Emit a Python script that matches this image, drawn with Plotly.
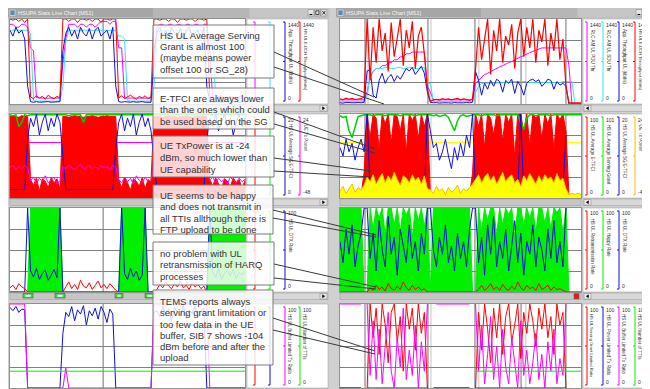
import plotly.graph_objects as go

W, H = 650, 389
T = list(range(81))  # sample index shared by every series

# ======================= RIGHT WINDOW (segments 9 / 21 / 15 / 31 / 5) =======================
# panel 1 (kbit/s, 0..1440)
r_pdu = [70, 70, 70, 70, 70, 70, 70, 70, 70,
         200, 450, 550, 600, 600, 650, 650, 700, 700, 750, 750, 800, 800, 850, 850, 880, 880, 880, 880, 880, 300,
         200, 70, 70, 70, 70, 70, 70, 70, 70, 70, 70, 70, 70, 70, 70,
         350, 400, 450, 500, 520, 550, 580, 600, 630, 650, 680, 700, 720, 750, 770, 800, 820, 850, 870, 890,
         910, 930, 950, 950, 950, 950, 950, 950, 950, 950, 950,
         650, 0, 0, 0, 0]
r_sdu = [40, 40, 40, 40, 40, 40, 40, 40, 40,
         150, 500, 550, 600, 600, 600, 620, 620, 600, 600, 620, 620, 600, 600, 620, 620, 600, 600, 620, 620, 350,
         350, 40, 40, 40, 40, 40, 40, 40, 40, 40, 40, 40, 40, 40, 40,
         200, 300, 350, 350, 360, 360, 360, 360, 360, 360, 360, 360, 380, 380, 380, 380, 380, 380, 360, 360,
         360, 360, 360, 360, 360, 360, 360, 360, 360, 380, 380,
         380, 380, 0, 0, 0]
r_app = [20, 15, 25, 20, 15, 20, 25, 20, 30,
         560, 580, 150, 100, 400, 520, 350, 450, 500, 380, 480, 420, 520, 600, 560, 620, 500, 580, 640, 520, 200,
         30, 20, 25, 15, 20, 25, 20, 15, 25, 20, 15, 20, 25, 20, 30,
         550, 400, 150, 350, 250, 400, 300, 420, 380, 200, 400, 350, 420, 180, 380, 300, 150, 350, 400, 420,
         380, 410, 300, 350, 420, 400, 250, 380, 320, 350, 300,
         0, 0, 0, 0, 0]
r_edch = [90, 70, 100, 80, 95, 75, 85, 90, 120,
          1440, 400, 1300, 700, 1440, 900, 1200, 550, 1380, 800, 1100, 1440, 650, 1250, 950, 1400, 600, 1150, 1300, 850, 250,
          40, 70, 80, 65, 90, 75, 85, 70, 80, 95, 70, 85, 75, 60, 90,
          600, 1300, 750, 1100, 1440, 500, 1250, 900, 1440, 700, 1150, 1000, 1350, 600, 1200, 1440, 800, 1300, 950, 1440,
          700, 1250, 1050, 1440, 650, 1200, 900, 1440, 750, 1100, 300,
          20, 20, 20, 20, 20]
# panel 2
r_etfci = [4, 5, 3, 6, 4, 5, 3, 4, 30,
           100, 72, 100, 95, 58, 100, 88, 100, 65, 100, 97, 80, 100, 55, 100, 92, 100, 70, 100, 85, 100,
           4, 5, 3, 4, 6, 4, 5, 3, 4, 5, 4, 6, 5, 4, 30,
           100, 85, 100, 60, 100, 95, 75, 100, 100, 68, 100, 90, 100, 50, 100, 100, 78, 100, 62, 100,
           95, 100, 70, 100, 88, 100, 58, 100, 93, 100, 80,
           3, 3, 3, 3, 3]
r_sg = [98, 96, 97, 80, 72, 85, 97, 98, 99,
        99, 99, 98, 99, 99, 99, 98, 99, 99, 99, 99, 98, 99, 99, 99, 99, 98, 99, 99, 99, 99,
        99, 98, 99, 97, 98, 99, 96, 88, 80, 92, 98, 99, 97, 98, 99,
        99, 99, 98, 99, 99, 99, 99, 98, 99, 99, 99, 99, 99, 99, 99, 90, 82, 95, 99, 99,
        98, 99, 99, 99, 99, 98, 99, 99, 99, 99, 99,
        99, 99, 99, 99, 99]
r_sgetfci = [12, 10, 14, 11, 13, 9, 12, 14, 11,
             20, 1, 1, 2, 1, 1, 2, 1, 1, 1, 2, 1, 1, 2, 1, 1, 1, 2, 1, 1, 20,
             16, 12, 13, 9, 11, 14, 10, 7, 12, 9, 13, 10, 15, 12, 20,
             1, 1, 2, 1, 1, 1, 2, 1, 1, 1, 1, 2, 1, 1, 1, 20, 1, 1, 1, 2,
             1, 1, 1, 1, 2, 1, 1, 1, 1, 2, 15,
             None, None, None, None, None]
r_txp = [-42, -38, -44, -40, -36, -43, -39, -41, -37,
         -30, -34, -28, -36, -31, -27, -35, -29, -33, -26, -32, -37, -29, -31, -35, -28, -33, -30, -36, -29, -40,
         -41, -44, -38, -42, -40, -45, -39, -43, -41, -37, -44, -40, -42, -39, -36,
         -32, -28, -35, -30, -27, -33, -29, -36, -31, -26, -34, -30, -28, -35, -32, -38, -29, -33, -27, -31,
         -36, -29, -34, -28, -32, -30, -35, -27, -33, -31, -40,
         -45, -44, -45, -44, -45]
# panel 3
r_happy = [100, 100, 100, 100, 100, 100, 100, 100, 0,
           0, 100, 75, 100, 88, 100, 68, 100, 100, 80, 100, 72, 100, 92, 100, 65, 100, 85, 100, 78, 100,
           0, 100, 100, 100, 100, 100, 100, 100, 100, 100, 100, 100, 100, 100, 0,
           0, 100, 72, 100, 85, 100, 100, 68, 100, 80, 100, 92, 100, 66, 100, 100, 78, 100, 88, 100,
           70, 100, 100, 82, 100, 75, 100, 95, 100, 70, 100,
           0, 0, 0, 0, 0]
r_dtx = [60, 35, 75, 45, 80, 30, 55, 70, 100,
         100, 40, 70, 25, 85, 50, 30, 90, 45, 65, 20, 75, 55, 35, 80, 40, 60, 25, 70, 45, 100,
         100, 50, 30, 65, 45, 80, 35, 55, 25, 70, 40, 60, 30, 75, 100,
         100, 35, 65, 20, 80, 45, 90, 30, 60, 40, 75, 25, 55, 85, 35, 70, 20, 60, 45, 80,
         30, 65, 50, 25, 75, 40, 85, 35, 60, 30, 100,
         None, None, None, None, None]
r_retx = [0, 0, 0, 0, 0, 0, 0, 0, 0,
          0, 5, 2, 8, 3, 6, 1, 10, 4, 2, 7, 3, 12, 5, 2, 8, 3, 6, 2, 4, 0,
          0, 0, 0, 0, 0, 0, 0, 0, 0, 0, 0, 0, 0, 0, 0,
          0, 3, 8, 2, 5, 10, 3, 6, 2, 9, 4, 2, 7, 3, 12, 5, 2, 8, 4, 6,
          2, 10, 3, 5, 8, 2, 6, 3, 4, 2, 0,
          0, 0, 0, 0, 0]
# panel 4
r_sglim = [0, 0, 0, 0, 0, 0, 0, 0, None,
           0, 100, 60, 95, 40, 100, 75, 30, 90, 100, 55, 85, 20, 100, 70, 95, 45, 100, 65, 90, 0,
           None, 0, 0, 0, 0, 0, 0, 0, 0, 0, 0, 0, 0, 0, None,
           0, 90, 45, 100, 70, 30, 95, 60, 100, 40, 85, 100, 55, 75, 100, 35, 90, 65, 100, 80,
           50, 95, 70, 100, 60, 85, 40, 100, 75, 90, 0,
           None, None, None, None, None]
r_pwrlim = [0, 0, 0, 0, 0, 0, 0, 0, None,
            0, 0, 0, 0, 0, 0, 0, 0, 0, 0, 0, 0, 0, 0, 0, 0, 0, 0, 0, 0, 0,
            None, 0, 0, 0, 0, 0, 0, 0, 0, 0, 0, 0, 0, 0, None,
            0, 0, 0, 0, 0, 0, 0, 0, 0, 0, 0, 0, 0, 0, 0, 0, 0, 0, 0, 0,
            0, 0, 0, 0, 0, 0, 0, 0, 0, 0, 0,
            None, None, None, None, None]
r_buflim = [100, 100, 100, 100, 100, 100, 100, 100, None,
            100, 15, 80, 10, 70, 5, 50, 90, 20, 0, 60, 25, 95, 10, 45, 15, 75, 0, 55, 20, 100,
            None, None, 100, 100, 100, 100, 100, 100, 100, 100, 100, 100, 100, 100, None,
            100, 20, 75, 5, 40, 85, 10, 50, 0, 70, 25, 5, 60, 30, 0, 80, 15, 45, 5, 30,
            65, 10, 40, 0, 55, 20, 70, 5, 35, 15, 100,
            None, None, None, None, None]
r_ntti_t = [45, 80]
r_ntti = [20, 20]

# ======================= LEFT WINDOW (segments 7 / 11 / 19 / 13 / 18 / 13) =======================
l_pdu = [1350, 1350, 1300, 1300, 1350, 1350, 1300,
         950, 900, 110, 100, 100, 100, 100, 100, 100, 100, 100,
         700, 1100, 1350, 1350, 1350, 1300, 1350, 1350, 1300, 1350, 1350, 1300, 1350, 1400, 1400, 1400, 1350, 1400, 1400,
         950, 950, 100, 100, 100, 100, 100, 100, 100, 100, 100, 100, 600,
         1300, 1350, 1350, 1300, 1350, 1350, 1300, 1350, 1350, 1300, 1350, 1350, 1300, 1350, 1350, 1300, 1350, 1350,
         900, 100, 100, 100, 100, 100, 100, 100, 100, 100, 100, 100, 100]
l_sdu = [1250, 1250, 1250, 1250, 1250, 1250, 1250,
         1200, 60, 50, 50, 50, 50, 50, 50, 50, 50, 50,
         300, 1050, 1250, 1250, 1250, 1250, 1250, 1250, 1250, 1250, 1250, 1250, 1250, 1250, 1250, 1250, 1250, 1250, 1250,
         1150, 1150, 1100, 60, 50, 50, 50, 50, 50, 50, 50, 50, 300,
         1000, 1250, 1250, 1250, 1250, 1250, 1250, 1250, 1250, 1250, 1250, 1250, 1250, 1250, 1250, 1250, 1250, 1250,
         1150, 1100, 60, 50, 50, 50, 50, 50, 50, 50, 50, 50, 50]
l_app = [1250, 1150, 1300, 1200, 1250, 1100, 300,
         40, 30, 40, 30, 35, 30, 40, 30, 35, 30, 40,
         900, 1200, 1300, 1150, 1250, 1100, 1300, 1200, 1150, 1280, 1100, 1250, 1300, 1150, 1200, 1250, 1100, 1300, 300,
         40, 30, 40, 35, 30, 40, 30, 35, 40, 30, 35, 30, 900,
         1200, 1300, 1150, 1250, 1100, 1300, 1200, 1150, 1280, 1100, 1250, 1300, 1150, 1200, 1250, 1100, 1300, 300,
         40, 30, 35, 40, 30, 35, 40, 30, 35, 40, 30, 35, 40]
l_edch = [1440, 1420, 1440, 1400, 1440, 1380, 1440,
          120, 90, 140, 100, 130, 80, 150, 110, 90, 130, 100,
          1440, 1440, 1400, 1440, 1440, 1380, 1440, 1440, 1420, 1440, 1400, 1440, 1440, 1380, 1440, 1440, 1420, 1440, 1440,
          100, 140, 90, 120, 150, 110, 80, 130, 100, 140, 90, 120, 1440,
          1440, 1420, 1440, 1440, 1400, 1440, 1440, 1380, 1440, 1440, 1420, 1440, 1440, 1400, 1440, 1440, 1420, 1440,
          130, 100, 80, 120, 140, 90, 110, 130, 100, 80, 120, 140, 100]
l_etfci = [97, 98, 97, 96, 98, 97, 97,
           22, 15, 24, 8, 23, 20, 12, 24, 18, 23, 10,
           97, 97, 96, 97, 98, 97, 97, 96, 97, 97, 98, 97, 96, 97, 97, 98, 97, 97, 97,
           22, 12, 24, 18, 9, 23, 20, 14, 24, 11, 22, 19, 97,
           97, 97, 96, 97, 98, 97, 97, 96, 97, 97, 98, 97, 96, 97, 97, 98, 97, 97,
           22, 14, 24, 17, 10, 23, 20, 13, 24, 18, 22, 11, 21]
l_sg = [99, 98, 99, 85, 90, 99, 98,
        99, 99, 99, 99, 99, 99, 99, 99, 99, 99, 99,
        99, 99, 98, 99, 99, 99, 99, 90, 99, 99, 99, 99, 99, 99, 99, 99, 99, 99, 99,
        99, 99, 99, 99, 99, 99, 99, 99, 99, 99, 99, 99, 99,
        99, 99, 99, 99, 99, 99, 99, 99, 99, 99, 99, 99, 99, 99, 99, 99, 99, 99,
        99, 99, 99, 99, 99, 99, 99, 99, 99, 99, 99, 99, 99]
l_sgetfci = [2, 2, 2, 2, 2, 2, 14,
             19, 17, 20, 15, 18, 20, 16, 19, 17, 20, 18,
             10, 2, 2, 2, 2, 2, 2, 2, 2, 2, 2, 2, 2, 2, 2, 2, 2, 2, 12,
             18, 20, 16, 19, 17, 20, 15, 18, 20, 17, 19, 16, 8,
             2, 2, 2, 2, 2, 2, 2, 2, 2, 2, 2, 2, 2, 2, 2, 2, 2, 14,
             19, 17, 20, 16, 18, 20, 17, 19, 15, 18, 20, 17, 19]
l_txp = [-22, -20, -24, -21, -23, -20, -22,
         -33, -30, -36, -31, -34, -29, -35, -32, -30, -36, -33,
         -21, -23, -20, -22, -24, -21, -19, -23, -22, -20, -24, -21, -23, -20, -22, -21, -24, -20, -22,
         -32, -35, -30, -34, -31, -36, -29, -33, -35, -30, -34, -32, -22,
         -21, -23, -20, -22, -24, -21, -22, -20, -23, -21, -24, -22, -20, -23, -21, -22, -24, -21,
         -33, -30, -35, -31, -34, -32, -36, -30, -33, -35, -31, -34, -32]
l_happy = [0, 0, 0, 0, 0, 0, 0,
           100, 100, 100, 100, 100, 100, 100, 100, 100, 100, 100,
           0, 0, 0, 0, 0, 0, 0, 0, 0, 0, 0, 0, 0, 0, 0, 0, 0, 0, 0,
           0, 100, 100, 100, 100, 100, 100, 100, 100, 100, 0, 0, 0,
           0, 0, 0, 0, 0, 0, 0, 0, 0, 0, 0, 0, 0, 0, 0, 0, 0, 0,
           100, 100, 100, 100, 100, 100, 100, 100, 100, 100, 100, 100, 100]
l_dtx = [0, 0, 0, 0, 0, 0, 100,
         25, 18, 28, 15, 22, 26, 14, 20, 27, 17, 100,
         0, 0, 0, 0, 0, 0, 0, 0, 0, 0, 0, 0, 0, 0, 0, 0, 0, 0, 0,
         0, 100, 22, 15, 28, 18, 25, 14, 20, 100, 0, 0, 0,
         0, 0, 0, 0, 0, 0, 0, 0, 0, 0, 0, 0, 0, 0, 0, 0, 0, 0,
         100, 24, 17, 28, 15, 22, 26, 19, 27, 16, 23, 20, 25]
l_retx = [5, 8, 3, 10, 6, 4, 0,
          0, 0, 0, 0, 0, 0, 0, 0, 0, 0, 0,
          0, 6, 12, 4, 9, 3, 14, 7, 5, 11, 3, 8, 13, 5, 9, 4, 10, 6, 2,
          0, 0, 0, 0, 0, 0, 0, 0, 0, 0, 0, 0, 0,
          3, 9, 5, 12, 7, 4, 10, 6, 13, 5, 8, 3, 11, 6, 9, 4, 7, 0,
          0, 0, 0, 0, 0, 0, 0, 0, 0, 0, 0, 0, 0]
l_pwrlim = [96, 92, 97, 90, 94, 93, 0,
            0, 0, 0, 0, 0, 0, 0, 0, 0, 0, 0,
            65, 90, 85, 97, 80, 93, 88, 98, 75, 92, 86, 95, 82, 97, 90, 78, 94, 88, 0,
            0, 0, 0, 0, 0, 0, 0, 0, 0, 0, 0, 0, 90,
            92, 85, 97, 88, 94, 80, 96, 90, 86, 98, 83, 93, 89, 97, 84, 92, 95, 0,
            0, 0, 0, 0, 0, 0, 0, 0, 0, 0, 0, 0, 0]
l_buflim = [100, 100, 100, 100, 100, 100, 0,
            0, 0, 0, 0, 0, 0, 0, 0, 0, 0, 0,
            0, 24, 0, 0, 0, 0, 0, 0, 0, 0, 0, 0, 0, 0, 0, 0, 0, 0, 0,
            0, 0, 0, 0, 0, 0, 0, 0, 0, 0, 0, 0, 100,
            100, 100, 100, 100, 100, 100, 100, 100, 100, 100, 100, 100, 100, 100, 100, 100, 100, 100,
            0, 0, 0, 0, 0, 0, 0, 0, 0, 0, 0, 0, 0]
l_ntti_t = [0, 80]
l_ntti = [20, 20]

TXP_RANGE = [-48, 24]

# legend captions (scale top, scale bottom, name) per panel
LEG_P1 = [("1440", "0", "RLC AM UL PDU Thr"), ("1440", "0", "RLC AM UL SDU Thr"),
          ("1440", "0", "App. Throughput UL (kbit/s)"), ("1440", "0", "HS UL E-DCH Throughput (kbit/s)")]
LEG_P2 = [("100", "0", "HS UL Average E-TFCI"), ("101", "0", "HS UL Average Serving Grant"),
          ("20", "0", "HS UL Average SG/E-TFCI"), ("24", "-48", "UE Tx Power")]
LEG_P3 = [("100", "0", "HS UL Retransmission Rate"), ("100", "0", "HS UL Happy Rate"),
          ("100", "0", "HS UL DTX Rate")]
LEG_P4 = [("100", "0", "HS UL Serving Grant Limited Ratio"), ("100", "0", "HS UL Power Limited Tx Ratio"),
          ("100", "0", "HS UL Buffer Limited Tx Ratio"), ("100", "0", "HS UL Number of TTIs")]

CALLOUTS = [
    ["HS UL Average Serving", "Grant is allmost 100", "(maybe means power", "offset 100 or SG_28)"],
    ["E-TFCI are always lower", "than the ones which could", "be used based on the SG"],
    ["UE TxPower is at -24", "dBm, so much lower than", "UE capability"],
    ["UE seems to be happy", "and does not transmit in", "all TTIs allthough there is", "FTP upload to be done"],
    ["no problem with UL", "retransmission of HARQ", "processes"],
    ["TEMS reports always", "serving grant limitation or", "too few data in the UE",
     "buffer, SIB 7 shows -104", "dBm before and after the", "upload"],
]
TITLE = "HSUPA Stats Line Chart [MS1]"

for nm, arr in list(globals().items()):
    if (nm.startswith("r_") or nm.startswith("l_")) and not nm.endswith("_t") and nm not in ("r_ntti", "l_ntti"):
        assert len(arr) == 81, (nm, len(arr))

# ---------------- styling / layout ----------------
RED = "#ff0000"; MAG = "#ff00ff"; CYAN = "#38e4f4"; BLUE = "#1010d8"
GREEN = "#00f000"; GLINE = "#00d000"; YEL = "#ffff00"; YLINE = "#f0c000"
GRID = "#808080"; CHROME = "#d0d0d0"; FONT = "Liberation Sans, Arial, sans-serif"

PANEL_Y = [(11, 96), (106, 190), (200, 284), (296, 380)]
WIN = {"L": dict(px=(2, 237), lg=(239, 320), lines=[247, 262, 277, 292], off=0, win=(0, 322)),
       "R": dict(px=(332, 573), lg=(575, 648), lines=[579, 595, 611, 627], off=4, win=(328, 650))}

fig = go.Figure()

def an(k):
    return "" if k == 1 else str(k)

def add(k, y, color, x=None, yax=None, width=1.0, fill=None, fc=None):
    fig.add_trace(go.Scatter(x=T if x is None else x, y=y, mode="lines",
                             line=dict(color=color, width=width), fill=fill, fillcolor=fc,
                             xaxis="x" + an(k), yaxis=yax or ("y" + an(k)),
                             hoverinfo="skip", showlegend=False))

# left window traces
add(1, l_pdu, MAG); add(1, l_sdu, CYAN); add(1, l_app, BLUE); add(1, l_edch, RED)
add(2, l_etfci, RED, fill="tozeroy", fc=RED); add(2, l_sg, GLINE, width=1.5)
add(2, l_sgetfci, BLUE, yax="y9"); add(2, l_txp, MAG, yax="y10")
add(3, l_happy, GREEN, fill="tozeroy", fc=GREEN); add(3, l_dtx, BLUE); add(3, l_retx, RED)
add(4, l_pwrlim, BLUE); add(4, l_buflim, MAG); add(4, l_ntti, GREEN, x=l_ntti_t)
# right window traces
add(5, r_pdu, MAG); add(5, r_sdu, CYAN); add(5, r_app, BLUE); add(5, r_edch, RED, width=1.2)
add(6, r_etfci, RED, fill="tozeroy", fc=RED); add(6, r_sg, GLINE, width=1.5)
add(6, r_sgetfci, BLUE, yax="y11")
add(6, [TXP_RANGE[0], TXP_RANGE[0]], "rgba(0,0,0,0)", x=[0, 80], yax="y12", width=0)
add(6, r_txp, YLINE, yax="y12", fill="tonexty", fc=YEL)
add(7, r_happy, GREEN, fill="tozeroy", fc=GREEN); add(7, r_dtx, BLUE); add(7, r_retx, RED)
add(8, r_sglim, RED); add(8, r_pwrlim, BLUE); add(8, r_buflim, MAG); add(8, r_ntti, GREEN, x=r_ntti_t)

lay = {}
for side, w in WIN.items():
    for i, (yt, yb) in enumerate(PANEL_Y):
        k = w["off"] + i + 1
        rng = [0, 1440] if i == 0 else [0, 100]
        lay["xaxis" + an(k)] = dict(domain=[w["px"][0] / W, w["px"][1] / W], range=[0, 80],
                                   showgrid=False, zeroline=False, showticklabels=False, ticks="",
                                   showline=True, mirror=True, linecolor="#909090", linewidth=1,
                                   anchor="y" + an(k), fixedrange=True)
        lay["yaxis" + an(k)] = dict(domain=[1 - yb / H, 1 - yt / H], range=rng, tick0=0, dtick=rng[1] / 4,
                                   showgrid=True, gridcolor=GRID, gridwidth=1, zeroline=False,
                                   showticklabels=False, ticks="", showline=True, mirror=True,
                                   linecolor="#909090", linewidth=1, anchor="x" + an(k), fixedrange=True)
hidden = dict(showgrid=False, showticklabels=False, ticks="", showline=False, fixedrange=True)
lay["yaxis9"] = dict(overlaying="y2", anchor="x2", range=[0, 20], zeroline=False, **hidden)
lay["yaxis10"] = dict(overlaying="y2", anchor="x2", range=TXP_RANGE, zeroline=True,
                      zerolinecolor=MAG, zerolinewidth=1, **hidden)
lay["yaxis11"] = dict(overlaying="y6", anchor="x6", range=[0, 20], zeroline=False, **hidden)
lay["yaxis12"] = dict(overlaying="y6", anchor="x6", range=TXP_RANGE, zeroline=True,
                      zerolinecolor=YEL, zerolinewidth=1, **hidden)

shapes, anns = [], []

def rect(x0, y0, x1, y1, fill, line=None, lw=1, layer="above"):
    shapes.append(dict(type="rect", xref="paper", yref="paper", x0=x0 / W, x1=x1 / W,
                       y0=1 - y1 / H, y1=1 - y0 / H, fillcolor=fill, layer=layer,
                       line=dict(color=line or "rgba(0,0,0,0)", width=lw if line else 0)))

def seg(x0, y0, x1, y1, color, lw=1):
    shapes.append(dict(type="line", xref="paper", yref="paper", x0=x0 / W, y0=1 - y0 / H,
                       x1=x1 / W, y1=1 - y1 / H, line=dict(color=color, width=lw), layer="above"))

def tri(pts, color):
    d = "M " + " L ".join(f"{x / W:.5f},{1 - y / H:.5f}" for x, y in pts) + " Z"
    shapes.append(dict(type="path", xref="paper", yref="paper", path=d, fillcolor=color,
                       line=dict(color=color, width=0.5), layer="above"))

def txt(x, y, s, size, color, xa="left", ya="middle", ang=0):
    anns.append(dict(xref="paper", yref="paper", x=x / W, y=1 - y / H, text=s, showarrow=False,
                     font=dict(size=size, color=color, family=FONT), xanchor=xa, yanchor=ya,
                     textangle=ang, borderpad=0))

# time grid lines
VGRID = {"L": ([31.7], []), "R": ([8.3, 29.2, 44.8, 60.1, 75.0], [9.3, 30.2, 46.1, 61.7])}
for side, w in WIN.items():
    dark, light = VGRID[side]
    for i in range(4):
        k = w["off"] + i + 1
        for xv, col in [(v, "#c4c4c4") for v in light] + [(v, "#707070") for v in dark]:
            shapes.append(dict(type="line", xref="x" + an(k), yref="y" + an(k) + " domain",
                               x0=xv, x1=xv, y0=0, y1=1, line=dict(color=col, width=1), layer="below"))

# window chrome
for side, w in WIN.items():
    x0, x1 = w["win"]
    rect(x0, 0, x1, 9.5, "#a6a6a6")
    rect(x0 + (x1 - x0) * 0.45, 0, x1, 9.5, "#b6b6b6")
    rect(x0 + (x1 - x0) * 0.75, 0, x1, 9.5, "#c6c6c6")
    rect(x0 + 2, 2, x0 + 7, 7.5, "#6688aa", "#ffffff", 0.5)
    txt(x0 + 9, 5, TITLE, 5.5, "#f4f4f4")
    # minimise / maximise / close buttons drawn as shapes
    for j in range(3):
        bx = x1 - 22 + j * 6.5
        rect(bx, 1.5, bx + 5.8, 8, "#e4e4e4", "#7a7a7a", 0.5)
        if j == 0:
            seg(bx + 1.5, 6.5, bx + 4.3, 6.5, "#000000", 1)
        elif j == 1:
            rect(bx + 1.3, 2.8, bx + 4.5, 6.6, "rgba(0,0,0,0)", "#000000", 0.7)
        else:
            seg(bx + 1.4, 3.0, bx + 4.4, 6.5, "#000000", 0.8)
            seg(bx + 4.4, 3.0, bx + 1.4, 6.5, "#000000", 0.8)
    px0, px1 = w["px"]; lx0, lx1 = w["lg"]
    for i, (yt, yb) in enumerate(PANEL_Y):
        rect(px0, yb + 1, px1, yb + 7.5, "#c6c6c6", "#9a9a9a", 0.5)
        rect(lx0, yb + 1, lx1, yb + 7.5, "#d8d8d8", "#9a9a9a", 0.5)
        if side == "L":
            rect(lx1 - 8, yb + 1.5, lx1 - 1, yb + 7, "#e8e8e8", "#808080", 0.5)
            tri([(lx1 - 5.5, yb + 2.8), (lx1 - 3.3, yb + 4.25), (lx1 - 5.5, yb + 5.7)], "#000000")
        else:
            rect(lx0 + 1, yb + 1.5, lx0 + 8, yb + 7, "#e8e8e8", "#808080", 0.5)
            tri([(lx0 + 5.5, yb + 2.8), (lx0 + 3.3, yb + 4.25), (lx0 + 5.5, yb + 5.7)], "#000000")
        rect(lx0, yt, lx1, yb, "#ffffff", "#9a9a9a", 0.5)

# status markers under panel 3
for a, b in [(15, 25), (47, 57), (107, 115), (137, 147)]:
    rect(a, 285.5, b, 290, "#50d050", "#205020", 0.5)
    rect(a + 2.5, 286.8, b - 2.5, 288.7, "#ffffff")
rect(566, 285.5, 571, 291, "#e02020", "#606060", 0.5)

# legend columns
PCOL = {"L": [[MAG, CYAN, BLUE, RED], [RED, GREEN, BLUE, MAG], [RED, GREEN, BLUE], [RED, BLUE, MAG, GREEN]],
        "R": [[MAG, CYAN, BLUE, RED], [RED, GREEN, BLUE, YLINE], [RED, GREEN, BLUE], [RED, BLUE, MAG, GREEN]]}
LEGS = [LEG_P1, LEG_P2, LEG_P3, LEG_P4]
for side, w in WIN.items():
    for i, (yt, yb) in enumerate(PANEL_Y):
        for j, (top, bot, name) in enumerate(LEGS[i]):
            lx = w["lines"][j]
            col = PCOL[side][i][j]
            seg(lx, yt + 3, lx, yb - 3, col)
            for ty in (yt + 3, (yt + yb) / 2, yb - 3):
                seg(lx - 2, ty, lx, ty, col)
            if side == "L" and lx < 268:
                continue  # captions hidden behind the callout boxes
            long = len(name) > 30
            txt(lx + 1.5, yt + 5.5, top, 5, "#303030")
            if not long:
                txt(lx + 1.5, yb - 6, bot, 5, "#303030")
            txt(lx + 5, yt + 9, name, 4.1 if long else 4.5, "#303030", "center", "top", 90)

# callout boxes
BOXES = [(145, 17, 266, 70), (145, 80, 266, 121), (145, 128, 266, 169),
         (145, 177, 265, 226), (145, 234, 266, 277), (145, 282, 265, 357)]
TEXT_Y = [[27, 38.5, 50, 61.5], [90, 101.5, 113], [138, 149.5, 161],
          [187, 198.5, 210, 221.5], [245, 256.5, 268], [293, 304.5, 316, 327, 338.5, 349.5]]
POINTERS = [[(266, 44, 366, 89), (266, 59, 376, 96)],
            [(266, 104, 367, 141), (266, 116, 367, 145)],
            [(266, 150, 363, 163), (266, 163, 363, 169)],
            [(265, 202, 368, 227), (265, 210, 368, 229)],
            [(266, 256, 368, 279), (266, 270, 368, 281)],
            [(265, 310, 367, 343), (265, 322, 367, 346)]]
for (bx0, by0, bx1, by1), lines, ys, ptrs in zip(BOXES, CALLOUTS, TEXT_Y, POINTERS):
    rect(bx0, by0, bx1, by1, "rgba(255,255,255,0.82)", "#7a7a7a", 1)
    for a in ptrs:
        seg(*a, "#3a3a3a", 1)
    for s, ty in zip(lines, ys):
        txt(151, ty, s, 9.5, "#333333")

fig.update_layout(width=W, height=H, margin=dict(l=0, r=0, t=0, b=0), autosize=False,
                  paper_bgcolor=CHROME, plot_bgcolor="#ffffff", showlegend=False,
                  shapes=shapes, annotations=anns, **lay)
fig.write_html("out.html", config={"displayModeBar": False})
